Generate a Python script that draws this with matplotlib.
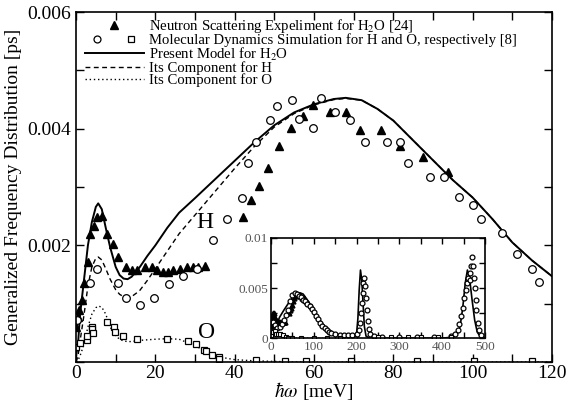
import matplotlib
matplotlib.use('Agg')
import matplotlib.pyplot as plt
from matplotlib.lines import Line2D
from matplotlib.legend_handler import HandlerTuple
from matplotlib.ticker import MultipleLocator

plt.rcParams['font.family'] = ['Liberation Serif', 'DejaVu Serif']
plt.rcParams['mathtext.fontset'] = 'stix'

# energy grid of the model curves [meV]
e_model = [0, 0.5, 1, 2, 3, 4, 5, 5.6, 6.5, 7.5, 8.6, 10, 11, 12, 13, 14, 16, 18, 20, 23,
           26, 30, 35, 40, 45, 50, 55, 60, 65, 68, 72, 76, 80, 85, 90, 95, 100, 105, 110, 115, 120]
model_h2o = [0.0001, 0.0003, 0.0008, 0.0014, 0.002, 0.0024, 0.00266, 0.00272, 0.00262, 0.0023,
             0.00197, 0.00163, 0.00149, 0.00143, 0.00142, 0.00146, 0.00162, 0.00182, 0.002, 0.0023,
             0.00256, 0.00281, 0.00313, 0.00345, 0.00377, 0.00406, 0.00428, 0.00442, 0.00451, 0.00453,
             0.00449, 0.00434, 0.00414, 0.0038, 0.00346, 0.00312, 0.00282, 0.00245, 0.00205, 0.00174,
             0.00147]
model_h = [0.0, 0.0001, 0.00035, 0.0008, 0.0013, 0.00163, 0.00178, 0.0018, 0.00175, 0.0016,
           0.00142, 0.00124, 0.00116, 0.00112, 0.00111, 0.00112, 0.00122, 0.0014, 0.0016, 0.0019,
           0.0022, 0.00252, 0.00292, 0.00332, 0.0037, 0.00403, 0.00426, 0.00441, 0.0045, 0.00452,
           0.00449, 0.00434, 0.00414, 0.0038, 0.00346, 0.00312, 0.00282, 0.00245, 0.00205, 0.00174,
           0.00147]
model_o = [0.0, 0.00003, 0.0001, 0.0003, 0.0006, 0.00082, 0.00093, 0.00096, 0.00094, 0.00082,
           0.0006, 0.00045, 0.00039, 0.00036, 0.00035, 0.00035, 0.00037, 0.00038, 0.00039, 0.0004,
           0.00039, 0.00028, 0.0001, 0.00004, 0.00002, 0.00001, 0, 0, 0, 0,
           0, 0, 0, 0, 0, 0, 0, 0, 0, 0, 0]

# neutron scattering, H2O
e_ns = [0.1, 0.5, 0.8, 1.5, 2.1, 2.9, 3.5, 4.5, 5.4, 6.5, 7.7, 9.4, 10.6, 12.6, 14.0, 15.5,
        17.4, 19.1, 20.3, 22.0, 23.2, 24.5, 26.2, 27.9, 29.5, 30.8, 32.5, 42.2, 44.0,
        46.1, 48.4, 51.2, 54.2, 57.3, 59.8, 64.0, 68.0, 71.6, 76.9, 81.8, 87.4, 93.7]
ns_h2o = [0.0006, 0.00077, 0.00089, 0.00106, 0.00136, 0.00171, 0.0022, 0.00234, 0.00248, 0.00251,
          0.0022, 0.00202, 0.0018, 0.00163, 0.00158, 0.00158, 0.00163, 0.00163, 0.00158, 0.00154,
          0.00154, 0.00157, 0.0016, 0.00163, 0.00163, 0.00163, 0.00165, 0.00248, 0.00278,
          0.00301, 0.00333, 0.00371, 0.00402, 0.00422, 0.00441, 0.00428, 0.00428, 0.00398, 0.00398,
          0.00371, 0.00352, 0.00325]

# molecular dynamics, H
e_md_h = [0.2, 3.5, 5.2, 10.6, 12.6, 16.1, 19.7, 23.5, 27.0, 30.5, 34.5, 38.0, 41.8, 43.4,
          45.5, 48.9, 50.7, 54.4, 56.3, 59.8, 61.7, 65.3, 69.1, 72.9, 78.3, 81.8, 83.8, 89.2,
          92.8, 96.5, 100.2, 102.0, 107.5, 111.2, 114.9, 116.8]
md_h = [0.00072, 0.00135, 0.00159, 0.00135, 0.0011, 0.00097, 0.0011, 0.00133, 0.00148, 0.0016,
        0.0021, 0.00246, 0.00281, 0.00342, 0.00378, 0.00415, 0.00439, 0.0045, 0.00417, 0.00402,
        0.00452, 0.00428, 0.00415, 0.00378, 0.00378, 0.00378, 0.00342, 0.00318, 0.00318, 0.00283,
        0.0027, 0.00245, 0.00221, 0.00186, 0.0016, 0.00137]

# molecular dynamics, O
e_md_o = [0.0, 1.0, 2.7, 2.7, 4.1, 4.1, 4.4, 7.7, 9.6, 9.8, 11.8, 15.5, 22.9, 28.3, 30.2,
          32.3, 32.8, 34.4, 36.1, 36.1, 45.5, 52.7, 58.1, 69.3, 85.9, 100.3, 114.9]
md_o = [0.00025, 0.00033, 0.00038, 0.00044, 0.0006, 0.00056, 0.0005, 0.00068, 0.0006, 0.00052,
        0.00044, 0.0004, 0.00039, 0.00036, 0.00031, 0.0002, 0.00018, 0.00012, 0.00008, 0.00005,
        0.00003, 0.00002, 0.00002, 0.00001, 0.00001, 0.00001, 0.00001]

# full energy range for the inset
ins_e_model = [0, 3, 6, 10, 14, 20, 30, 40, 50, 60, 67, 75, 85, 95, 105, 115, 125, 135, 145, 155,
               165, 180, 195, 200, 203, 206, 209, 212, 215, 218, 222, 230, 300, 400, 425, 435, 442,
               448, 454, 459, 464, 470, 476, 482, 490, 500]
ins_model = [0.0001, 0.0021, 0.0026, 0.0016, 0.0015, 0.0021, 0.0028, 0.00345, 0.00406, 0.00442,
             0.00453, 0.0044, 0.0038, 0.0031, 0.0024, 0.0017, 0.0012, 0.0008, 0.0005, 0.0003,
             0.0002, 0.0001, 0.0001, 0.0005, 0.002, 0.0048, 0.0068, 0.0058, 0.0035, 0.0012,
             0.0002, 0.0, 0.0, 0.0, 0.0001, 0.0004, 0.0012, 0.003, 0.0055, 0.0068,
             0.006, 0.0038, 0.0018, 0.0006, 0.0001, 0.0]
ins_e_md = [0, 5, 10, 15, 20, 25, 30, 35, 40, 45, 50, 55, 60, 65, 70, 75, 80, 85, 90, 95, 100,
            105, 110, 115, 120, 125, 130, 135, 140, 150, 160, 170, 180, 190, 200, 205, 208, 210,
            212, 214, 216, 218, 220, 222, 224, 226, 228, 232, 240, 260, 300, 340, 380, 420, 430,
            436, 440, 444, 448, 452, 455, 458, 461, 464, 466, 468, 470, 472, 474, 476, 478, 480,
            483, 486, 490]
ins_md_h = [0.0007, 0.0016, 0.0013, 0.001, 0.0011, 0.0014, 0.0018, 0.0023, 0.0028, 0.0037, 0.0043,
            0.0045, 0.0044, 0.0042, 0.0041, 0.0038, 0.0037, 0.0034, 0.0032, 0.0029, 0.0026,
            0.0022, 0.0019, 0.0015, 0.0012, 0.001, 0.0008, 0.0006, 0.0005, 0.0004, 0.0003, 0.0003,
            0.0003, 0.0003, 0.0004, 0.0008, 0.0015, 0.0025, 0.0035, 0.0045, 0.0055, 0.006, 0.0052,
            0.004, 0.0028, 0.0017, 0.0009, 0.0004, 0.0002, 0.0001, 0.0001, 0.0001, 0.0001, 0.0002,
            0.0004, 0.0008, 0.0014, 0.0022, 0.003, 0.004, 0.0048, 0.0055, 0.006, 0.0058, 0.0065,
            0.0072, 0.0081, 0.0072, 0.006, 0.005, 0.0038, 0.0028, 0.0015, 0.0008, 0.0003]
ins_e_md_o = [0, 4, 8, 12, 16, 22, 28, 34, 40, 50, 70, 100, 130, 160, 250, 280, 320, 350, 390, 420]
ins_md_o = [0.0003, 0.0006, 0.0007, 0.0004, 0.0004, 0.0004, 0.00035, 0.00012, 0.00004, 0.00002,
            0.00001, 0.00001, 0.0, 0.0, 0.0001, 0.0001, 0.0001, 0.0001, 0.0001, 0.0001]

fig = plt.figure(figsize=(5.78, 4.04), dpi=100)
ax = fig.add_axes([0.1315, 0.104, 0.8235, 0.866])

mk = dict(ls='none', color='k')
ax.plot(e_model, model_h2o, '-', color='k', lw=1.4)
ax.plot(e_model, model_h, color='k', lw=1.0, ls=(0, (3.5, 2.5)))
ax.plot(e_model, model_o, color='k', lw=1.0, ls=(0, (1, 2)))
ax.plot(e_ns, ns_h2o, marker='^', ms=6, **mk)
ax.plot(e_md_h, md_h, marker='o', ms=5.5, mfc='white', mew=0.9, **mk)
ax.plot(e_md_o, md_o, marker='s', ms=3.8, mfc='white', mew=0.9, **mk)

ax.set_xlim(0, 120)
ax.set_ylim(0, 0.006)
ax.xaxis.set_major_locator(MultipleLocator(20))
ax.xaxis.set_minor_locator(MultipleLocator(10))
ax.yaxis.set_major_locator(MultipleLocator(0.002))
ax.yaxis.set_minor_locator(MultipleLocator(0.001))
ax.yaxis.set_major_formatter(lambda v, p: '' if v == 0 else f'{v:.3f}')
ax.tick_params(which='both', direction='in', top=True, right=True, labelsize=14,
               width=1.0, length=6)
ax.tick_params(axis='x', pad=2)
for s in ax.spines.values():
    s.set_linewidth(1.2)
ax.set_xlabel(r'$\hbar\omega$ [meV]', fontsize=14, labelpad=-1)
ax.set_ylabel('Generalized Frequency Distribution [ps]', fontsize=14, labelpad=4)

ax.text(32.5, 0.0024, 'H', fontsize=17, ha='center', va='center')
ax.text(33.0, 0.0005, 'O', fontsize=17, ha='center', va='center')

h_tri = Line2D([], [], marker='^', ms=6, **mk)
h_circ = Line2D([], [], marker='o', ms=5, mfc='white', mew=0.9, **mk)
h_sq = Line2D([], [], marker='s', ms=4, mfc='white', mew=0.9, **mk)
h_solid = Line2D([], [], color='k', lw=1.4)
h_dash = Line2D([], [], color='k', lw=1.0, ls=(0, (3.5, 2.5)))
h_dot = Line2D([], [], color='k', lw=1.0, ls=(0, (1, 2)))
ax.legend([h_tri, (h_circ, h_sq), h_solid, h_dash, h_dot],
          ['Neutron Scattering Expeliment for H$_2$O [24]',
           'Molecular Dynamics Simulation for H and O, respectively [8]',
           'Present Model for H$_2$O',
           'Its Component for H',
           'Its Component for O'],
          handler_map={tuple: HandlerTuple(ndivide=None, pad=0.6)},
          loc='upper left', bbox_to_anchor=(0.0, 1.012), frameon=False, fontsize=10.6,
          handlelength=4.0, handletextpad=0.35, labelspacing=-0.1, borderpad=0.2,
          borderaxespad=0.4)

# inset over the full energy range
ins = fig.add_axes([0.469, 0.163, 0.370, 0.248])
ins.plot(ins_e_model, ins_model, '-', color='k', lw=1.2)
ins.plot(e_model, model_o, color='k', lw=0.9, ls=(0, (1, 2)))
ins.plot(e_ns, ns_h2o, marker='^', ms=3.5, **mk)
ins.plot(ins_e_md, ins_md_h, marker='o', ms=3.5, mfc='white', mew=0.9, **mk)
ins.plot(ins_e_md_o, ins_md_o, marker='s', ms=3, mfc='white', mew=0.8, **mk)
ins.set_xlim(0, 500)
ins.set_ylim(0, 0.01)
ins.xaxis.set_major_locator(MultipleLocator(100))
ins.xaxis.set_minor_locator(MultipleLocator(50))
ins.yaxis.set_major_locator(MultipleLocator(0.005))
ins.yaxis.set_minor_locator(MultipleLocator(0.0025))
ins.yaxis.set_major_formatter(lambda v, p: '0' if v == 0 else f'{v:g}')
ins.tick_params(which='both', direction='in', top=True, right=True, labelsize=9.5,
                length=4, width=1.0, pad=2, labelcolor='#555555')
for s in ins.spines.values():
    s.set_linewidth(1.2)

fig.savefig('out.png', dpi=100)
